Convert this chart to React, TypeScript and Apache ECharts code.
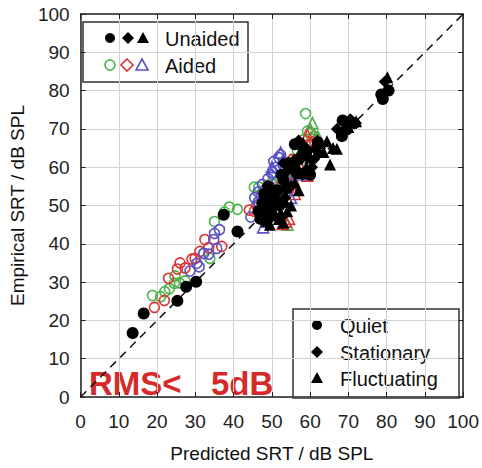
import React, { useEffect, useRef } from "react";
import * as echarts from "echarts";

// ---- data (Predicted SRT, Empirical SRT) in dB SPL ----
const unaidedQuiet: number[][] = [
  [13.6, 16.7], [16.5, 21.8], [25.3, 25.1], [27.6, 28.8], [30.2, 30.1],
  [37.4, 47.6], [41.0, 43.2], [46.5, 48.5], [48.0, 53.0], [50.5, 52.5],
  [53.0, 56.8], [52.0, 50.0], [49.0, 55.0], [55.0, 60.0], [57.0, 62.0],
  [56.0, 66.0], [59.0, 64.0], [68.5, 72.2], [71.5, 71.5], [68.3, 68.1],
  [69.5, 69.8], [78.6, 79.0], [79.0, 77.8], [80.5, 80.0], [62.0, 66.5],
  [60.0, 58.0], [47.5, 50.5], [54.0, 54.5], [50.0, 50.5], [51.5, 54.0],
  [49.5, 52.0], [52.5, 58.0], [54.5, 61.0], [58.0, 63.0], [47.0, 46.5],
  [56.5, 58.5],
];
const unaidedStationary: number[][] = [
  [79.5, 82.3], [72.0, 71.5], [70.5, 72.5], [67.0, 70.0], [57.0, 67.0],
  [54.0, 59.0], [51.0, 53.0], [48.0, 51.0], [50.0, 47.0], [53.0, 61.0],
  [58.0, 58.0], [61.0, 62.0], [52.5, 47.0], [55.0, 55.0], [49.0, 49.0],
  [51.5, 51.0], [53.5, 52.0], [56.0, 62.0], [59.0, 65.0], [62.0, 64.0],
  [47.5, 47.5], [60.5, 60.0],
];
const unaidedFluctuating: number[][] = [
  [80.2, 83.5], [65.2, 60.7], [64.4, 66.8], [67.0, 64.8], [61.3, 65.6],
  [61.9, 67.1], [62.6, 66.3], [66.0, 65.0], [57.5, 64.3], [58.2, 66.3],
  [51.8, 46.5], [52.3, 48.0], [53.0, 45.5], [48.5, 46.0], [55.0, 50.0],
  [56.0, 56.0], [59.0, 60.0], [50.0, 49.0], [70.0, 70.5], [72.0, 72.0],
  [49.5, 45.0], [51.0, 47.5], [54.0, 48.5], [53.5, 51.0], [57.0, 54.0],
  [58.0, 58.5], [60.0, 62.5], [63.5, 64.0], [56.5, 60.5],
];
const aidedGreenCircle: number[][] = [
  [18.8, 26.5], [20.9, 26.2], [23.2, 28.3], [24.5, 29.7], [25.8, 29.8],
  [27.3, 30.3], [24.7, 31.6], [33.8, 36.2], [35.0, 45.8], [37.6, 48.3],
  [38.9, 49.6], [45.4, 54.8], [46.6, 54.8], [58.8, 74.0], [59.3, 69.4],
  [58.0, 67.1], [56.7, 64.3], [55.5, 62.0], [54.0, 58.0], [57.0, 60.0],
  [60.0, 63.0], [50.0, 56.0], [61.0, 68.0], [53.5, 56.0], [55.0, 60.0],
  [52.0, 57.0], [41.0, 49.0], [22.0, 27.5],
];
const aidedRedCircle: number[][] = [
  [19.3, 23.4], [21.9, 25.2], [25.3, 33.4], [27.3, 33.7], [29.1, 36.0],
  [31.2, 38.0], [32.5, 41.1], [29.9, 36.2], [36.9, 39.3], [44.1, 48.8],
  [45.4, 48.5], [23.0, 31.0], [60.0, 69.0], [57.0, 62.0], [55.0, 58.0],
  [46.0, 50.0], [48.5, 51.5], [26.0, 35.0], [33.5, 39.0],
];
const aidedBlueCircle: number[][] = [
  [28.6, 32.9], [30.4, 34.9], [32.2, 37.5], [33.5, 37.3], [35.6, 38.8],
  [34.8, 41.1], [35.0, 42.7], [36.3, 43.7], [46.4, 50.9], [46.6, 50.4],
  [47.2, 52.7], [46.4, 53.5], [51.0, 59.9], [50.3, 58.6], [51.8, 62.5],
  [52.3, 63.2], [49.0, 57.0], [48.0, 54.0], [53.0, 60.5], [44.5, 47.0],
  [47.5, 55.5], [49.5, 55.0], [45.5, 52.0], [50.5, 61.5], [31.0, 34.0],
];
const aidedGreenTriangle: number[][] = [
  [60.6, 71.5], [54.1, 45.0], [60.0, 70.0], [62.0, 68.0], [56.0, 59.0],
];
const aidedRedTriangle: number[][] = [
  [59.5, 65.8], [59.3, 68.4], [52.8, 45.2], [53.6, 45.8], [59.3, 57.8],
  [57.0, 61.0], [55.5, 57.0], [54.5, 46.5], [56.0, 53.0],
];
const aidedBlueTriangle: number[][] = [
  [47.7, 44.3], [52.3, 63.8], [57.5, 58.1], [51.5, 48.8], [50.0, 60.0],
  [53.0, 62.0], [59.0, 59.4], [55.0, 52.0], [48.5, 45.8], [53.5, 56.5],
];
const aidedRedDiamond: number[][] = [[58, 63], [55, 62], [60, 66], [52, 55]];
const aidedBlueDiamond: number[][] = [[50, 58], [54, 57]];
const aidedGreenDiamond: number[][] = [[57, 66], [53, 52]];
const identityLine: number[][] = [[0, 0], [100, 100]];
const axisTicks = { min: 0, max: 100, interval: 10 };

const FONT = "'Liberation Sans', Arial, Helvetica, sans-serif";
const GREEN = "#4db34a";
const RED = "#dd3535";
const BLUE = "#5a52c4";
const BLACK = "#000";

const hollow = (name: string, data: number[][], symbol: string, color: string, size: number) => ({
  name,
  type: "scatter",
  data,
  symbol,
  symbolSize: size,
  itemStyle: { color: "rgba(0,0,0,0)", borderColor: color, borderWidth: 1.6, opacity: 1 },
  z: 3,
});
const filled = (name: string, data: number[][], symbol: string, size: number) => ({
  name,
  type: "scatter",
  data,
  symbol,
  symbolSize: size,
  itemStyle: { color: BLACK, opacity: 1 },
  z: 4,
});

export default function App() {
  const ref = useRef<HTMLDivElement>(null);
  useEffect(() => {
    const chart = echarts.init(ref.current!, null, { renderer: "svg" });
    const axisLine = { show: true, onZero: false, lineStyle: { color: "#222", width: 1.5 } };
    const tick = { show: true, inside: true, length: 5, lineStyle: { color: "#222", width: 1 } };
    const split = { show: true, lineStyle: { color: "#d2d2d2", width: 1 } };
    const label = { fontSize: 19, color: "#222", fontFamily: FONT };
    const nameStyle = { fontSize: 19, color: "#111", fontFamily: FONT };
    const txt = (x: number, y: number, text: string) => ({
      type: "text",
      x,
      y,
      style: { text, fill: "#111", font: `20px ${FONT}`, textVerticalAlign: "middle", verticalAlign: "middle" },
    });
    const circ = (cx: number, cy: number, fill: string, stroke?: string) => ({
      type: "circle",
      shape: { cx, cy, r: 5 },
      style: stroke ? { fill: "none", stroke, lineWidth: 1.6 } : { fill },
    });
    const diam = (cx: number, cy: number, fill: string, stroke?: string) => ({
      type: "polygon",
      shape: { points: [[cx, cy - 6], [cx + 6, cy], [cx, cy + 6], [cx - 6, cy]] },
      style: stroke ? { fill: "none", stroke, lineWidth: 1.6 } : { fill },
    });
    const tri = (cx: number, cy: number, fill: string, stroke?: string) => ({
      type: "polygon",
      shape: { points: [[cx, cy - 6], [cx + 6, cy + 5], [cx - 6, cy + 5]] },
      style: stroke ? { fill: "none", stroke, lineWidth: 1.6 } : { fill },
    });
    const rms = (x: number, text: string) => ({
      type: "text", x, y: 383,
      style: { text, fill: "#d42a2a", font: `bold 33px ${FONT}`, textVerticalAlign: "middle", verticalAlign: "middle" },
    });
    chart.setOption({
      animation: false,
      backgroundColor: "#fff",
      textStyle: { fontFamily: FONT },
      grid: { left: 77, right: 17, top: 14, bottom: 65 },
      xAxis: [
        {
          type: "value", ...axisTicks, position: "bottom",
          axisLine, axisTick: tick, splitLine: split,
          axisLabel: { ...label, margin: 15 },
          name: "Predicted SRT / dB SPL", nameLocation: "middle", nameGap: 47, nameTextStyle: nameStyle,
        },
        {
          type: "value", ...axisTicks, position: "top",
          axisLine, axisTick: tick, splitLine: { show: false }, axisLabel: { show: false },
        },
      ],
      yAxis: [
        {
          type: "value", ...axisTicks, position: "left",
          axisLine, axisTick: tick, splitLine: split,
          axisLabel: { ...label, margin: 11 },
          name: "Empirical SRT / dB SPL", nameLocation: "middle", nameGap: 47, nameTextStyle: nameStyle,
        },
        {
          type: "value", ...axisTicks, position: "right",
          axisLine, axisTick: tick, splitLine: { show: false }, axisLabel: { show: false },
        },
      ],
      series: [
        {
          type: "line",
          data: identityLine,
          symbol: "none",
          lineStyle: { color: "#111", width: 1.5, type: [8, 6] },
          z: 2,
          silent: true,
        },
        hollow("Aided green circle", aidedGreenCircle, "circle", GREEN, 10),
        hollow("Aided red circle", aidedRedCircle, "circle", RED, 10),
        hollow("Aided blue circle", aidedBlueCircle, "circle", BLUE, 10),
        hollow("Aided green triangle", aidedGreenTriangle, "triangle", GREEN, 11),
        hollow("Aided red triangle", aidedRedTriangle, "triangle", RED, 11),
        hollow("Aided blue triangle", aidedBlueTriangle, "triangle", BLUE, 11),
        hollow("Aided red diamond", aidedRedDiamond, "diamond", RED, 11),
        hollow("Aided blue diamond", aidedBlueDiamond, "diamond", BLUE, 11),
        hollow("Aided green diamond", aidedGreenDiamond, "diamond", GREEN, 11),
        filled("Unaided quiet", unaidedQuiet, "circle", 12),
        filled("Unaided stationary", unaidedStationary, "diamond", 12),
        filled("Unaided fluctuating", unaidedFluctuating, "triangle", 12),
      ],
      graphic: [
        {
          type: "group",
          z: 100,
          children: [
            { type: "rect", shape: { x: 83, y: 22, width: 165, height: 60 }, style: { fill: "#fff", stroke: "#333", lineWidth: 1.5 } },
            circ(110, 38, BLACK), diam(128, 38, BLACK), tri(143, 38, BLACK),
            txt(165, 39, "Unaided"),
            circ(110, 65, "", GREEN), diam(127, 65, "", RED), tri(142, 65, "", BLUE),
            txt(165, 66, "Aided"),
            { type: "rect", shape: { x: 293, y: 309, width: 166, height: 89 }, style: { fill: "#fff", stroke: "#333", lineWidth: 1.5 } },
            circ(317, 325, BLACK), diam(317, 352, BLACK), tri(317, 378, BLACK),
            txt(340, 326, "Quiet"), txt(340, 353, "Stationary"), txt(340, 379, "Fluctuating"),
            rms(89, "RMS<"),
            rms(211, "5dB"),
          ],
        },
      ],
    });
    return () => chart.dispose();
  }, []);
  return <div ref={ref} style={{ position: "absolute", left: 0, top: 0, width: 482, height: 468 }} />;
}
